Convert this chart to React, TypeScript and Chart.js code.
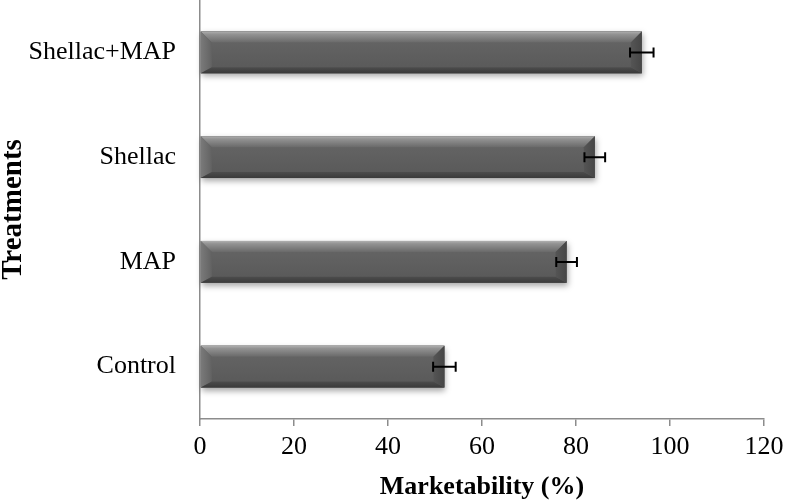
import { useEffect, useRef } from 'react';
import { Chart, registerables } from 'chart.js';

Chart.register(...registerables);

const categories = ['Shellac+MAP', 'Shellac', 'MAP', 'Control'];
const marketability = [94, 84, 78, 52];
const errors = [2.5, 2.2, 2.2, 2.4];
const xTicks = [0, 20, 40, 60, 80, 100, 120];

const FONT = "'Liberation Serif', 'Times New Roman', serif";
const AXIS_COLOR = '#8c8c8c';

function poly(ctx: CanvasRenderingContext2D, pts: number[][], fill: any) {
  ctx.beginPath();
  ctx.moveTo(pts[0][0], pts[0][1]);
  for (let i = 1; i < pts.length; i++) ctx.lineTo(pts[i][0], pts[i][1]);
  ctx.closePath();
  ctx.fillStyle = fill;
  ctx.fill();
}

const bevelPlugin = {
  id: 'bevelBars',
  beforeDatasetsDraw(chart: any) {
    const ctx = chart.ctx as CanvasRenderingContext2D;
    const meta = chart.getDatasetMeta(0);
    ctx.save();
    meta.data.forEach((bar: any) => {
      const { x, y, base, height } = bar.getProps(['x', 'y', 'base', 'height'], true);
      const top = y - height / 2;
      ctx.shadowColor = 'rgba(0,0,0,0.35)';
      ctx.shadowBlur = 6;
      ctx.shadowOffsetY = 3;
      ctx.shadowOffsetX = 1;
      ctx.fillStyle = '#5e5e5e';
      ctx.fillRect(base, top, x - base, height);
    });
    ctx.restore();
  },
  afterDatasetsDraw(chart: any) {
    const ctx = chart.ctx as CanvasRenderingContext2D;
    const meta = chart.getDatasetMeta(0);
    const xScale = chart.scales.x;
    ctx.save();
    meta.data.forEach((bar: any, i: number) => {
      const { x, y, base, height } = bar.getProps(['x', 'y', 'base', 'height'], true);
      const L = base, R = x, T = y - height / 2, B = y + height / 2;
      const w = 11, wb = 6;
      const cg = ctx.createLinearGradient(0, T + w, 0, B - wb);
      cg.addColorStop(0, '#636363');
      cg.addColorStop(1, '#5a5a5a');
      ctx.fillStyle = cg;
      ctx.fillRect(L + w, T + w, R - L - 2 * w, B - wb - T - w);
      const tg = ctx.createLinearGradient(0, T, 0, T + w);
      tg.addColorStop(0, '#b0b0b0');
      tg.addColorStop(0.25, '#939393');
      tg.addColorStop(1, '#6a6a6a');
      poly(ctx, [[L, T], [R, T], [R - w, T + w], [L + w, T + w]], tg);
      const lg = ctx.createLinearGradient(L, 0, L + w, 0);
      lg.addColorStop(0, '#7a7a7a');
      lg.addColorStop(1, '#626262');
      poly(ctx, [[L, T], [L + w, T + w], [L + w, B - wb], [L, B]], lg);
      const rg = ctx.createLinearGradient(R - w, 0, R, 0);
      rg.addColorStop(0, '#555555');
      rg.addColorStop(1, '#464646');
      poly(ctx, [[R, T], [R, B], [R - w, B - wb], [R - w, T + w]], rg);
      const bg = ctx.createLinearGradient(0, B - wb, 0, B);
      bg.addColorStop(0, '#4c4c4c');
      bg.addColorStop(1, '#3a3a3a');
      poly(ctx, [[L, B], [L + w, B - wb], [R - w, B - wb], [R, B]], bg);

      const v = marketability[i];
      const e = errors[i];
      const x1 = xScale.getPixelForValue(v - e);
      const x2 = xScale.getPixelForValue(v + e);
      const cap = 5;
      ctx.strokeStyle = '#000';
      ctx.lineWidth = 2;
      ctx.beginPath();
      ctx.moveTo(x1, y);
      ctx.lineTo(x2, y);
      ctx.moveTo(x1, y - cap);
      ctx.lineTo(x1, y + cap);
      ctx.moveTo(x2, y - cap);
      ctx.lineTo(x2, y + cap);
      ctx.stroke();
    });
    ctx.restore();
  },
};

export default function App() {
  const ref = useRef<HTMLCanvasElement | null>(null);

  useEffect(() => {
    if (!ref.current) return;
    const chart = new Chart(ref.current, {
      type: 'bar',
      data: {
        labels: categories,
        datasets: [
          {
            data: marketability,
            backgroundColor: '#5e5e5e',
            borderWidth: 0,
            barPercentage: 0.4,
            categoryPercentage: 1,
          },
        ],
      },
      options: {
        indexAxis: 'y',
        animation: false,
        responsive: false,
        layout: { padding: { top: 0, right: 22, left: 0, bottom: 0 } },
        plugins: {
          legend: { display: false },
          tooltip: { enabled: false },
        },
        scales: {
          x: {
            min: 0,
            max: 120,
            afterBuildTicks: (s: any) => {
              s.ticks = xTicks.map((v) => ({ value: v }));
            },
            afterFit: (s: any) => {
              s.height = 84;
              s.paddingLeft = 0;
              s.paddingRight = 0;
            },
            grid: {
              display: true,
              drawOnChartArea: false,
              drawTicks: true,
              tickLength: 7,
              color: AXIS_COLOR,
              lineWidth: 1.5,
            },
            border: { display: true, color: AXIS_COLOR, width: 1.5 },
            ticks: {
              color: '#000',
              padding: 6,
              maxRotation: 0,
              font: { family: FONT, size: 26 },
            },
            title: {
              display: true,
              text: 'Marketability (%)',
              color: '#000',
              padding: { top: 0, bottom: 0 },
              font: { family: FONT, size: 26, weight: 'bold' },
            },
          },
          y: {
            afterFit: (s: any) => {
              s.width = 200;
              s.paddingTop = 0;
              s.paddingBottom = 0;
            },
            grid: { display: false, drawTicks: false },
            border: { display: true, color: AXIS_COLOR, width: 1.5 },
            ticks: {
              color: '#000',
              padding: 24,
              font: { family: FONT, size: 26 },
            },
            title: {
              display: true,
              text: 'Treatments',
              color: '#000',
              padding: { top: 0, bottom: 0 },
              font: { family: FONT, size: 29, weight: 'bold', lineHeight: 0.95 },
            },
          },
        },
      },
      plugins: [bevelPlugin],
    });
    return () => chart.destroy();
  }, []);

  return (
    <div style={{ position: 'absolute', left: 0, top: 0, width: 786, height: 503 }}>
      <canvas ref={ref} width={786} height={503} />
    </div>
  );
}
